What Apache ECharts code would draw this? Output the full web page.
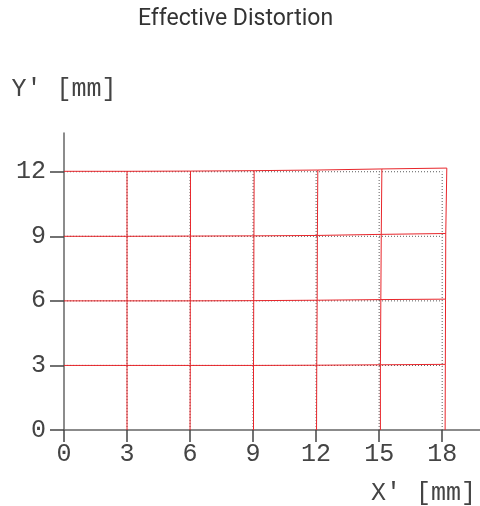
<!DOCTYPE html>
<html>
<head>
<meta charset="utf-8">
<script src="https://cdn.jsdelivr.net/npm/echarts@6/dist/echarts.min.js"></script>
<style>
html,body{margin:0;padding:0;background:#fff;}
#c{width:480px;height:506px;}
</style>
</head>
<body>
<div id="c"></div>
<script>
// Nominal (ideal) grid tick values, mm
const xTicks = [0, 3, 6, 9, 12, 15, 18];
const yTicks = [0, 3, 6, 9, 12];

// Distorted (effective) grid node positions, one array per row (nominal Y' = 0,3,6,9,12)
const redX_y0  = [0, 3.00, 6.00, 9.02, 12.02, 15.06, 18.14];
const redY_y0  = [0, 0, 0, 0, 0, 0, 0];
const redX_y3  = [0, 3.00, 6.01, 9.02, 12.03, 15.06, 18.15];
const redY_y3  = [3.00, 3.00, 3.00, 3.00, 3.01, 3.03, 3.05];
const redX_y6  = [0, 3.00, 6.01, 9.03, 12.05, 15.08, 18.16];
const redY_y6  = [6.00, 6.00, 6.00, 6.01, 6.03, 6.06, 6.08];
const redX_y9  = [0, 3.00, 6.02, 9.04, 12.06, 15.10, 18.17];
const redY_y9  = [9.00, 9.00, 9.01, 9.02, 9.04, 9.09, 9.13];
const redX_y12 = [0, 3.00, 6.02, 9.05, 12.08, 15.13, 18.22];
const redY_y12 = [12.02, 12.02, 12.03, 12.05, 12.08, 12.13, 12.17];

const titleText = 'Effective Distortion';
const xName = "X' [mm]";
const yName = "Y' [mm]";

const redXRows = [redX_y0, redX_y3, redX_y6, redX_y9, redX_y12];
const redYRows = [redY_y0, redY_y3, redY_y6, redY_y9, redY_y12];

const series = [];
const dotted = {color: '#5a5a5a', width: 1, type: [1, 2]};
const red = {color: '#e8262b', width: 1};

// ideal dotted grid
for (let j = 1; j < yTicks.length; j++) {
  series.push({type: 'line', symbol: 'none', silent: true, z: 2,
    lineStyle: dotted,
    data: [[xTicks[0], yTicks[j]], [xTicks[xTicks.length - 1], yTicks[j]]]});
}
for (let i = 1; i < xTicks.length; i++) {
  series.push({type: 'line', symbol: 'none', silent: true, z: 2,
    lineStyle: dotted,
    data: [[xTicks[i], yTicks[0]], [xTicks[i], yTicks[yTicks.length - 1]]]});
}
// distorted red grid: rows
for (let j = 1; j < yTicks.length; j++) {
  const pts = redXRows[j].map((x, i) => [x, redYRows[j][i]]);
  series.push({type: 'line', symbol: 'none', silent: true, z: 3, lineStyle: red, data: pts});
}
// distorted red grid: columns
for (let i = 1; i < xTicks.length; i++) {
  const pts = redXRows.map((row, j) => [row[i], redYRows[j][i]]);
  series.push({type: 'line', symbol: 'none', silent: true, z: 3, lineStyle: red, data: pts});
}

const tickFont = {fontFamily: 'Liberation Mono', fontSize: 25, color: '#444'};

const chart = echarts.init(document.getElementById('c'));
chart.setOption({
  animation: false,
  backgroundColor: '#fff',
  title: {
    text: titleText, left: 133, top: 3,
    textStyle: {fontFamily: 'Roboto', fontSize: 23, fontWeight: 'normal', color: '#333'}
  },
  grid: {left: 64, right: 0, top: 133, bottom: 76, containLabel: false},
  xAxis: {
    type: 'value', min: 0, max: 19.8, interval: 3,
    axisLine: {show: true, onZero: false, lineStyle: {color: '#666', width: 1.5}},
    axisTick: {show: true, length: 12, customValues: xTicks, lineStyle: {color: '#444', width: 1.5}},
    axisLabel: Object.assign({margin: 12, customValues: xTicks}, tickFont),
    splitLine: {show: false}
  },
  yAxis: {
    type: 'value', min: 0, max: 13.8, interval: 3,
    name: yName, nameLocation: 'end', nameGap: 31,
    nameTextStyle: {fontFamily: 'Liberation Mono', fontSize: 25, color: '#444', align: 'center'},
    axisLine: {show: true, onZero: false, lineStyle: {color: '#666', width: 1.5}},
    axisTick: {show: true, length: 14, customValues: yTicks, lineStyle: {color: '#444', width: 1.5}},
    axisLabel: Object.assign({margin: 18, customValues: yTicks}, tickFont),
    splitLine: {show: false}
  },
  graphic: [{
    type: 'text', left: 371, top: 481, silent: true,
    style: {text: xName, fontFamily: 'Liberation Mono', fontSize: 25, fill: '#444'}
  }],
  series: series
});
</script>
</body>
</html>
